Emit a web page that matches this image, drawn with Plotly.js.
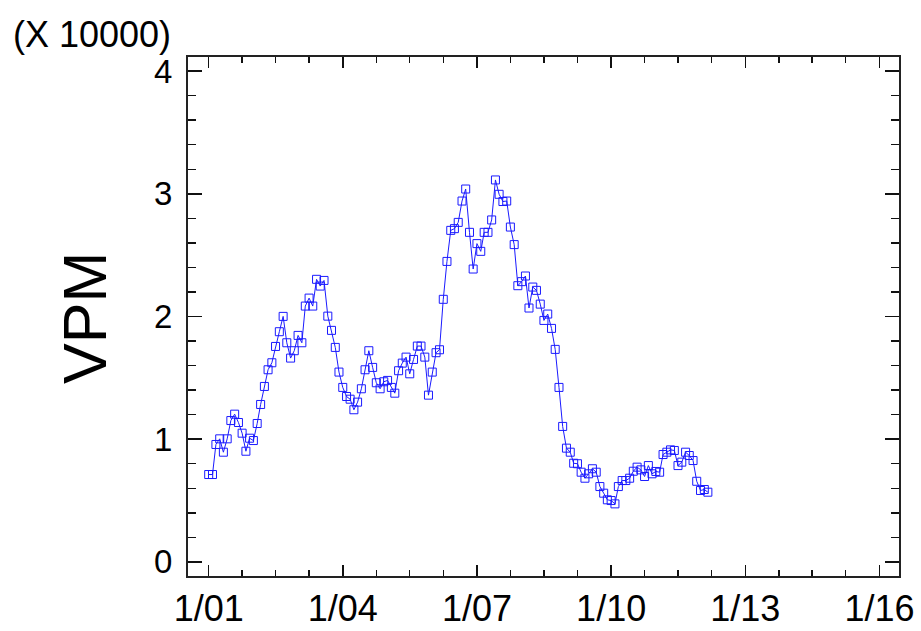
<!DOCTYPE html>
<html>
<head>
<meta charset="utf-8">
<script src="https://cdn.plot.ly/plotly-3.0.1.min.js"></script>
<style>
html,body{margin:0;padding:0;background:#fff;}
#chart{width:921px;height:631px;}
</style>
</head>
<body>
<div id="chart"></div>
<script>
// Monthly series starting January 2001
var startYear = 2001;
var startMonth = 1;
var vpm = [
  7120, 7120, 9570, 10030, 8940, 10030, 11520, 12040, 11360, 10490, 9020, 10080,
  9890, 11280, 12830, 14300, 15660, 16230, 17560, 18760, 20010, 17860, 16610, 17210,
  18460, 17860, 20850, 21500, 20850, 23030, 22480, 22940, 20030, 18870, 17480, 15470,
  14220, 13480, 13260, 12400, 13020, 14110, 15660, 17210, 15850, 14600, 14110, 14680,
  14790, 14220, 13750, 15580, 16200, 16690, 15330, 16500, 17590, 17590, 16690, 13590,
  15470, 17050, 17290, 21400, 24490, 27020, 27160, 27670, 29410, 30390, 26860, 23870,
  25940, 25310, 26860, 26860, 27870, 31130, 29960, 29370, 29410, 27290, 25860, 22510,
  22840, 23300, 20690, 22400, 22130, 21010, 19680, 20200, 19030, 17320, 14220, 11040,
  9270, 8940, 8040, 8000, 7310, 6820, 7180, 7590, 7310, 6140, 5600, 5060,
  5000, 4730, 6140, 6630, 6630, 6820, 7390, 7720, 7500, 6960, 7850, 7180,
  7370, 7310, 8750, 8940, 9130, 9080, 7850, 8130, 8940, 8670, 8260, 6570,
  5820, 5900, 5680
];
var tickYears = [2001, 2004, 2007, 2010, 2013, 2016];
var tickLabels = ['1/01', '1/04', '1/07', '1/10', '1/13', '1/16'];
var yTickVals = [0, 10000, 20000, 30000, 40000];
var yTickText = ['0', '1', '2', '3', '4'];

function pad(n){ return (n < 10 ? '0' : '') + n; }
var dates = vpm.map(function(_, i){
  var m = startMonth - 1 + i;
  var y = startYear + Math.floor(m / 12);
  return y + '-' + pad(m % 12 + 1) + '-01';
});
var xTickVals = tickYears.map(function(y){ return y + '-01-01'; });

var trace = {
  x: dates,
  y: vpm,
  type: 'scatter',
  mode: 'lines+markers',
  line: {color: '#1a1aff', width: 1},
  marker: {symbol: 'square-open', size: 8, color: '#1a1aff', line: {width: 1, color: '#1a1aff'}},
  hoverinfo: 'x+y'
};

var font = 'Liberation Sans, Arial, sans-serif';
var layout = {
  width: 921, height: 631,
  margin: {l: 188, r: 22, t: 57, b: 55},
  paper_bgcolor: '#fff', plot_bgcolor: '#fff',
  showlegend: false,
  font: {family: font, color: '#000'},
  xaxis: {
    type: 'date',
    range: ['2000-07-16', '2016-06-09'],
    tickmode: 'array', tickvals: xTickVals, ticktext: tickLabels,
    ticks: 'inside', ticklen: 11, tickwidth: 1.5, tickcolor: '#111',
    minor: {tickmode: 'linear', tick0: '2001-01-01', dtick: 'M9', ticks: 'inside', ticklen: 6, tickwidth: 1.5, tickcolor: '#111', showgrid: false},
    showline: true, linecolor: '#222', linewidth: 2, mirror: 'allticks',
    showgrid: false, zeroline: false,
    tickfont: {size: 36, family: font, color: '#000'},
    fixedrange: true
  },
  yaxis: {
    range: [-1150, 41150],
    tickmode: 'array', tickvals: yTickVals, ticktext: yTickText,
    ticks: 'inside', ticklen: 14, tickwidth: 1.5, tickcolor: '#111',
    minor: {tickmode: 'linear', tick0: 0, dtick: 2000, ticks: 'inside', ticklen: 8, tickwidth: 1.5, tickcolor: '#111', showgrid: false},
    showline: true, linecolor: '#222', linewidth: 2, mirror: 'allticks',
    showgrid: false, zeroline: false,
    tickfont: {size: 33, family: font, color: '#000'},
    ticklabelstandoff: 7,
    fixedrange: true
  },
  annotations: [
    {text: 'VPM', xref: 'paper', yref: 'paper', x: -0.145, y: 0.497, xanchor: 'center', yanchor: 'middle',
     textangle: -90, showarrow: false, font: {size: 61, family: font, color: '#000'}},
    {text: '(X 10000)', xref: 'paper', yref: 'paper', x: -0.249, y: 1.044, xanchor: 'left', yanchor: 'middle',
     showarrow: false, font: {size: 36, family: font, color: '#000'}}
  ]
};

Plotly.newPlot('chart', [trace], layout, {displayModeBar: false, staticPlot: true});
</script>
</body>
</html>
